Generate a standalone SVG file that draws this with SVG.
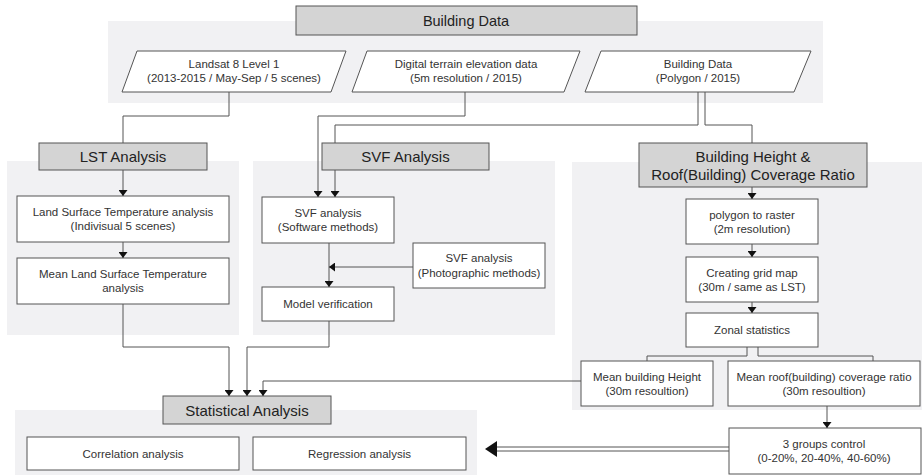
<svg xmlns="http://www.w3.org/2000/svg" width="922" height="475" viewBox="0 0 922 475">
<defs>
<style>
.panel{fill:#f1f1f3;stroke:none}
.hdr{fill:#d4d4d4;stroke:#555;stroke-width:1}
.box{fill:#fff;stroke:#555;stroke-width:1}
.t{font-family:"Liberation Sans",Arial,sans-serif;font-size:11.5px;fill:#333;text-anchor:middle;dominant-baseline:central}
.h{font-family:"Liberation Sans",Arial,sans-serif;font-size:15px;fill:#222;text-anchor:middle;dominant-baseline:central}
.c{fill:none;stroke:#555;stroke-width:1}
</style>
<marker id="arr" viewBox="0 0 6 9" refX="6" refY="4.5" markerWidth="6" markerHeight="9" orient="auto" markerUnits="userSpaceOnUse">
<path d="M0,0 L6,4.5 L0,9 z" fill="#111"/>
</marker>
</defs>

<!-- background panels -->
<g id="panels">
<rect class="panel" x="108" y="21" width="715" height="82"/>
<rect class="panel" x="7" y="161" width="232" height="174"/>
<rect class="panel" x="253" y="161" width="302" height="174"/>
<rect class="panel" x="572" y="162" width="350" height="248"/>
<rect class="panel" x="15" y="410" width="462" height="65"/>
</g>

<g id="building-data-banner">
<rect class="hdr" x="296" y="6" width="341" height="29"/>
<text class="h" x="466" y="20.5" style="font-size:14.5px">Building Data</text>
</g>

<g id="landsat">
<polygon class="box" points="137,51 346,51 331,92 122,92"/>
<text class="t" x="234" y="64">Landsat 8 Level 1</text>
<text class="t" x="234" y="78">(2013-2015 / May-Sep / 5 scenes)</text>
</g>

<g id="dted">
<polygon class="box" points="367,51 580,51 564,92 352,92"/>
<text class="t" x="466" y="64">Digital terrain elevation data</text>
<text class="t" x="466" y="78">(5m resolution / 2015)</text>
</g>

<g id="building-polygon">
<polygon class="box" points="601,51 811,51 794,92 585,92"/>
<text class="t" x="698" y="64">Building Data</text>
<text class="t" x="698" y="78">(Polygon / 2015)</text>
</g>

<g id="lst-analysis">
<rect class="hdr" x="39" y="143" width="168" height="27"/>
<text class="h" x="123" y="156.5">LST Analysis</text>
</g>

<g id="lst-individual">
<rect class="box" x="17" y="196" width="212" height="46"/>
<text class="t" x="123" y="212">Land Surface Temperature analysis</text>
<text class="t" x="123" y="226">(Indivisual 5 scenes)</text>
</g>

<g id="lst-mean">
<rect class="box" x="17" y="258" width="212" height="46"/>
<text class="t" x="123" y="274">Mean Land Surface Temperature</text>
<text class="t" x="123" y="288">analysis</text>
</g>

<g id="svf-analysis">
<rect class="hdr" x="322" y="143" width="167" height="27"/>
<text class="h" x="405.5" y="156.5">SVF Analysis</text>
</g>

<g id="svf-software">
<rect class="box" x="262" y="197" width="132" height="46"/>
<text class="t" x="328" y="212.5">SVF analysis</text>
<text class="t" x="328" y="227">(Software methods)</text>
</g>

<g id="svf-photo">
<rect class="box" x="413" y="243" width="132" height="45"/>
<text class="t" x="479" y="258">SVF analysis</text>
<text class="t" x="479" y="273">(Photographic methods)</text>
</g>

<g id="model-verification">
<rect class="box" x="262" y="287" width="132" height="34"/>
<text class="t" x="328" y="304">Model verification</text>
</g>

<g id="building-height">
<rect class="hdr" x="639" y="143" width="228" height="44"/>
<text class="h" x="753" y="156.5">Building Height &amp;</text>
<text class="h" x="753" y="174">Roof(Building) Coverage Ratio</text>
</g>

<g id="polygon-raster">
<rect class="box" x="686" y="199" width="132" height="45"/>
<text class="t" x="752" y="214.5">polygon to raster</text>
<text class="t" x="752" y="228.5">(2m resolution)</text>
</g>

<g id="grid-map">
<rect class="box" x="686" y="257" width="132" height="45"/>
<text class="t" x="752" y="272.5">Creating grid map</text>
<text class="t" x="752" y="286.5">(30m / same as LST)</text>
</g>

<g id="zonal">
<rect class="box" x="686" y="313" width="132" height="34"/>
<text class="t" x="752" y="330">Zonal statistics</text>
</g>

<g id="mean-height">
<rect class="box" x="581" y="361" width="132" height="45"/>
<text class="t" x="647" y="376.5">Mean building Height</text>
<text class="t" x="647" y="390.5">(30m resoultion)</text>
</g>

<g id="mean-roof">
<rect class="box" x="728" y="361" width="192" height="45"/>
<text class="t" x="824" y="376.5">Mean roof(building) coverage ratio</text>
<text class="t" x="824" y="390.5">(30m resoultion)</text>
</g>

<g id="groups">
<rect class="box" x="729" y="428" width="192" height="46"/>
<text class="t" x="824" y="444">3 groups control</text>
<text class="t" x="824" y="458">(0-20%, 20-40%, 40-60%)</text>
</g>

<g id="statistical">
<rect class="hdr" x="163" y="396" width="168" height="28"/>
<text class="h" x="247" y="410">Statistical Analysis</text>
</g>

<g id="correlation">
<rect class="box" x="27" y="437" width="212" height="33"/>
<text class="t" x="133" y="453.5">Correlation analysis</text>
</g>

<g id="regression">
<rect class="box" x="253" y="437" width="213" height="33"/>
<text class="t" x="359.5" y="453.5">Regression analysis</text>
</g>

<g id="connectors">
<path class="c" d="M229,92 V116 H123 V143"/>
<path class="c" d="M465,92 V116 H318 V197" marker-end="url(#arr)"/>
<path class="c" d="M698,92 V125 H335 V143"/>
<path class="c" d="M335,170 V197" marker-end="url(#arr)"/>
<path class="c" d="M705,92 V125 H752 V143"/>
<path class="c" d="M123,170 V196" marker-end="url(#arr)"/>
<path class="c" d="M123,242 V258" marker-end="url(#arr)"/>
<path class="c" d="M123,304 V347 H229 V396" marker-end="url(#arr)"/>
<path class="c" d="M329,243 V287" marker-end="url(#arr)"/>
<path class="c" d="M413,267 H329" marker-end="url(#arr)"/>
<path class="c" d="M329,321 V347 H247 V396" marker-end="url(#arr)"/>
<path class="c" d="M752,187 V199" marker-end="url(#arr)"/>
<path class="c" d="M752,244 V257" marker-end="url(#arr)"/>
<path class="c" d="M752,302 V313" marker-end="url(#arr)"/>
<path class="c" d="M747,347 V356 H647 V361"/>
<path class="c" d="M758,347 V356 H873 V361"/>
<path class="c" d="M581,381 H263 V396" marker-end="url(#arr)"/>
<path class="c" d="M827,406 V428" marker-end="url(#arr)"/>
<path class="c" d="M729,447 H496 M729,451 H496"/>
<polygon points="485,449 497,441 497,457" fill="#111"/>
</g>
</svg>
